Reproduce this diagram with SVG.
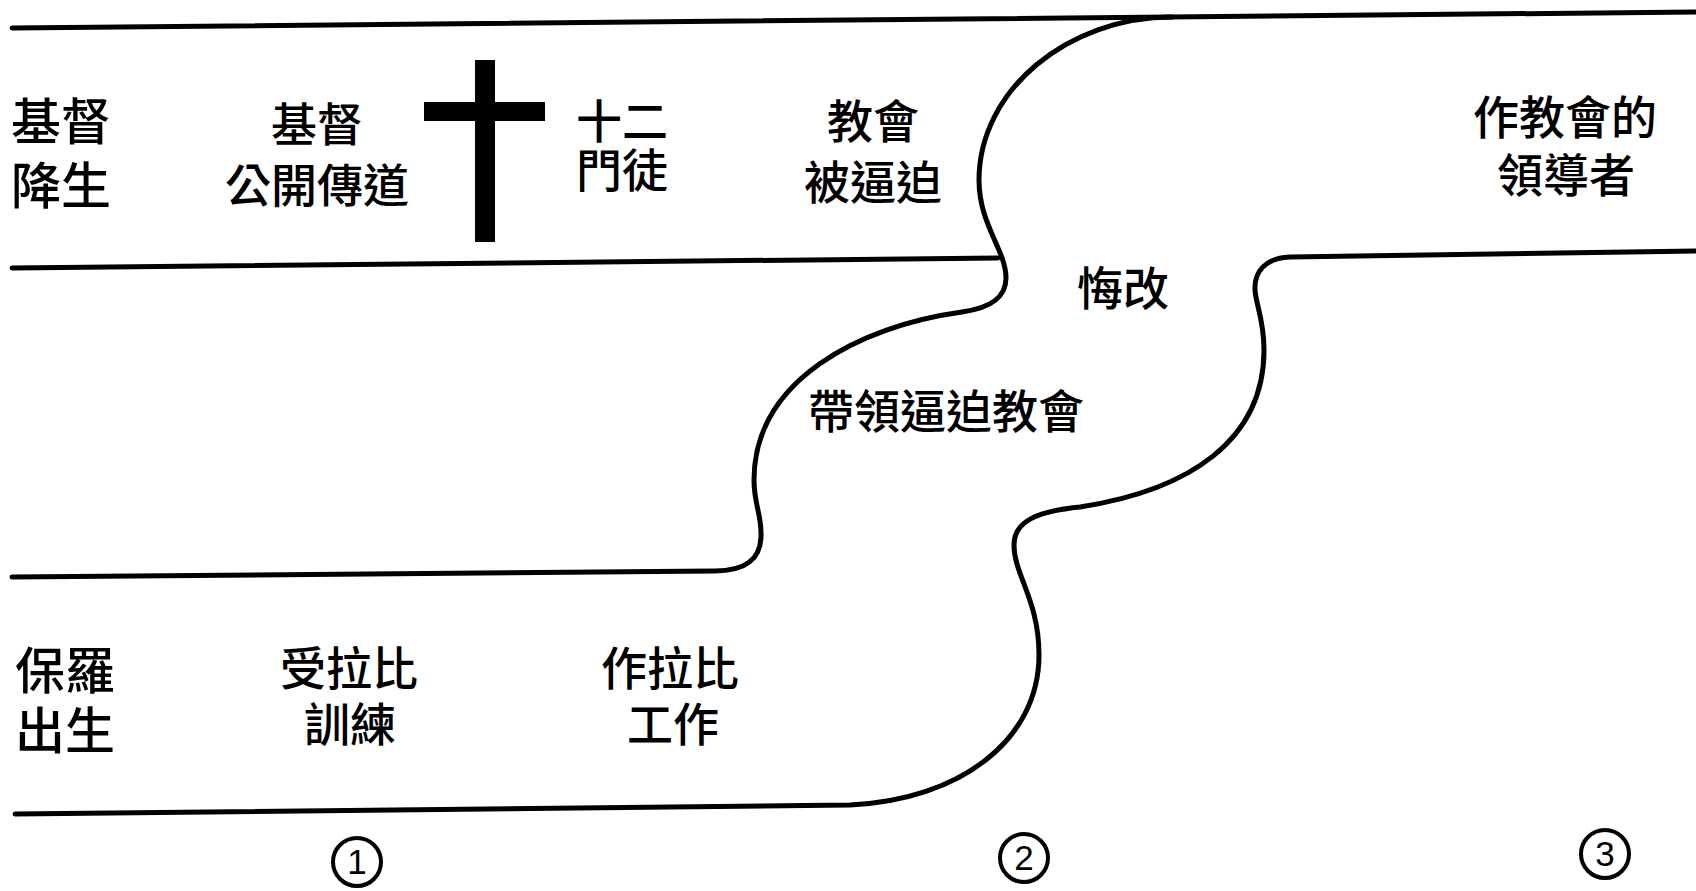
<svg xmlns="http://www.w3.org/2000/svg" width="1696" height="891" viewBox="0 0 1696 891">
<style>
.ln{fill:none;stroke:#000;stroke-width:5;stroke-linecap:round;stroke-linejoin:round}
.t{font-family:"Noto Sans CJK TC","Noto Sans CJK SC",sans-serif;font-size:46px;font-weight:500;fill:#000;text-anchor:middle}
.tl{font-family:"Noto Sans CJK TC","Noto Sans CJK SC",sans-serif;font-size:50px;font-weight:500;fill:#000;text-anchor:start}
.c{fill:none;stroke:#000;stroke-width:4}
.n{font-family:"Liberation Sans",Arial,sans-serif;font-size:35px;fill:#000;text-anchor:middle}
</style>
<rect width="1696" height="891" fill="#fff"/>
<g id="connectors">
<path class="ln" d="M12,28 L1696,12"/>
<path class="ln" d="M12,268 L998,258"/>
<path class="ln" d="M1172,17 C1068,17 979,90 979,180 C979,225 1006,250 1006,278 C1006,298 990,308 962,312 C860,326 754,380 754,480 C754,505 762,515 761,537 C760,560 745,571 715,571 L12,577"/>
<path class="ln" d="M1696,251 L1290,257 C1265,258 1254,272 1255,290 C1256,305 1264,320 1264,350 C1264,440 1190,490 1080,507 C1040,511 1014,520 1014,545 C1014,575 1039,600 1039,655 C1039,740 960,800 850,805 L15,814"/>
</g>
<g id="cross">
<rect x="475" y="60" width="20" height="182" fill="#000"/>
<rect x="424" y="102" width="121" height="19" fill="#000"/>
</g>
<g id="christ-birth"><text class="tl" x="11" y="140">基督</text><text class="tl" x="11" y="204">降生</text></g>
<g id="christ-ministry"><text class="t" x="317" y="141">基督</text><text class="t" x="317" y="202">公開傳道</text></g>
<g id="twelve-disciples"><text class="t" x="576" y="138" style="text-anchor:start">十二</text><text class="t" x="576" y="187" style="text-anchor:start">門徒</text></g>
<g id="church-persecuted"><text class="t" x="873" y="138">教會</text><text class="t" x="873" y="199">被逼迫</text></g>
<g id="repent"><text class="t" x="1123" y="305">悔改</text></g>
<g id="lead-persecution"><text class="t" x="946" y="428">帶領逼迫教會</text></g>
<g id="church-leader"><text class="t" x="1565" y="134">作教會的</text><text class="t" x="1566" y="192">領導者</text></g>
<g id="paul-birth"><text class="tl" x="15" y="689">保羅</text><text class="tl" x="15" y="749">出生</text></g>
<g id="rabbi-training"><text class="t" x="349" y="685">受拉比</text><text class="t" x="350" y="741">訓練</text></g>
<g id="rabbi-work"><text class="t" x="670" y="685">作拉比</text><text class="t" x="673" y="741">工作</text></g>
<g id="stage1"><circle class="c" cx="357" cy="862" r="24"/><text class="n" x="357" y="874">1</text></g>
<g id="stage2"><circle class="c" cx="1024" cy="858" r="24"/><text class="n" x="1024" y="870">2</text></g>
<g id="stage3"><circle class="c" cx="1605" cy="854" r="24"/><text class="n" x="1605" y="866">3</text></g>
</svg>
